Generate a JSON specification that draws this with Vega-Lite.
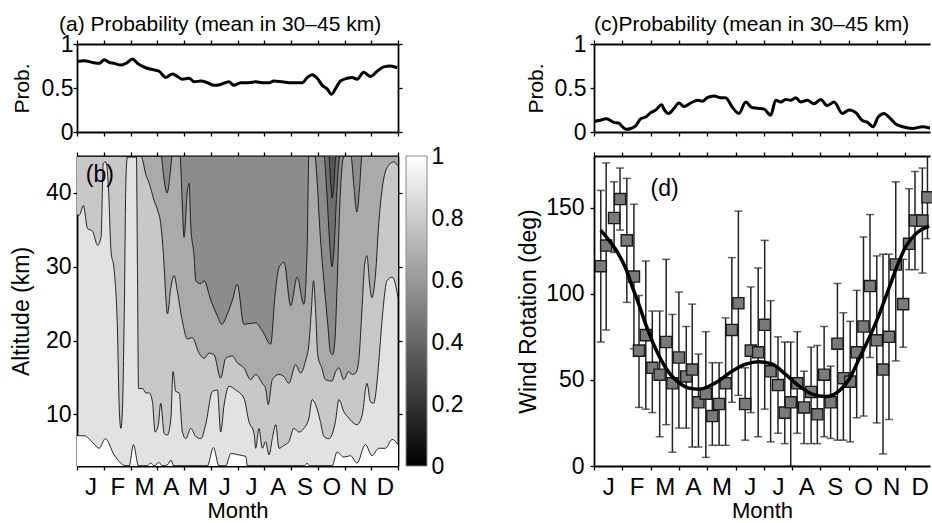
{
  "$schema": "https://vega.github.io/schema/vega-lite/v6.json",
  "background": "white",
  "padding": {"left": 10, "top": 13, "right": 0, "bottom": 0},
  "config": {
    "font": "Liberation Sans",
    "view": {"stroke": null},
    "axis": {"grid": false, "domainColor": "black", "domainWidth": 1.8, "tickColor": "black", "tickWidth": 1.3, "tickSize": 4, "labelColor": "black", "labelFontSize": 23, "labelPadding": 2, "titleColor": "black", "titleFontSize": 22, "titleFontWeight": "normal", "labelFlush": false, "labelOverlap": false},
    "title": {"fontSize": 21, "fontWeight": "normal", "color": "black", "anchor": "start", "frame": "group", "offset": -1.5}
  },
  "datasets": {
    "probA": [
      {"t":0,"p":0.80},{"t":0.27,"p":0.81},{"t":0.58,"p":0.79},{"t":0.83,"p":0.78},{"t":1.02,"p":0.82},{"t":1.21,"p":0.79},{"t":1.39,"p":0.78},{"t":1.64,"p":0.76},{"t":1.83,"p":0.78},{"t":2.08,"p":0.83},{"t":2.26,"p":0.78},{"t":2.57,"p":0.73},{"t":2.82,"p":0.71},{"t":3.07,"p":0.69},{"t":3.32,"p":0.62},{"t":3.57,"p":0.66},{"t":3.76,"p":0.63},{"t":3.94,"p":0.60},{"t":4.19,"p":0.61},{"t":4.38,"p":0.57},{"t":4.63,"p":0.58},{"t":4.88,"p":0.56},{"t":5.12,"p":0.53},{"t":5.37,"p":0.54},{"t":5.68,"p":0.57},{"t":5.87,"p":0.53},{"t":6.12,"p":0.56},{"t":6.43,"p":0.56},{"t":6.68,"p":0.57},{"t":6.93,"p":0.56},{"t":7.18,"p":0.56},{"t":7.36,"p":0.58},{"t":7.67,"p":0.57},{"t":8.05,"p":0.56},{"t":8.42,"p":0.56},{"t":8.61,"p":0.62},{"t":8.79,"p":0.65},{"t":8.98,"p":0.61},{"t":9.17,"p":0.53},{"t":9.35,"p":0.49},{"t":9.51,"p":0.43},{"t":9.66,"p":0.49},{"t":9.85,"p":0.58},{"t":10.10,"p":0.61},{"t":10.29,"p":0.62},{"t":10.47,"p":0.60},{"t":10.72,"p":0.68},{"t":10.97,"p":0.63},{"t":11.22,"p":0.69},{"t":11.47,"p":0.74},{"t":11.72,"p":0.75},{"t":11.97,"p":0.73}
    ],
    "probC": [
      {"t":0,"p":0.12},{"t":0.18,"p":0.13},{"t":0.44,"p":0.15},{"t":0.71,"p":0.11},{"t":0.88,"p":0.10},{"t":1.0,"p":0.06},{"t":1.14,"p":0.03},{"t":1.30,"p":0.04},{"t":1.47,"p":0.07},{"t":1.65,"p":0.15},{"t":1.83,"p":0.17},{"t":2.00,"p":0.22},{"t":2.18,"p":0.25},{"t":2.39,"p":0.31},{"t":2.47,"p":0.26},{"t":2.63,"p":0.21},{"t":2.83,"p":0.27},{"t":3.00,"p":0.33},{"t":3.18,"p":0.29},{"t":3.42,"p":0.33},{"t":3.65,"p":0.36},{"t":3.83,"p":0.35},{"t":4.00,"p":0.39},{"t":4.24,"p":0.41},{"t":4.48,"p":0.39},{"t":4.65,"p":0.39},{"t":4.89,"p":0.28},{"t":5.12,"p":0.21},{"t":5.36,"p":0.34},{"t":5.57,"p":0.28},{"t":5.77,"p":0.27},{"t":6.01,"p":0.26},{"t":6.24,"p":0.19},{"t":6.42,"p":0.36},{"t":6.60,"p":0.34},{"t":6.77,"p":0.37},{"t":6.95,"p":0.36},{"t":7.13,"p":0.39},{"t":7.30,"p":0.34},{"t":7.54,"p":0.36},{"t":7.77,"p":0.32},{"t":8.01,"p":0.37},{"t":8.24,"p":0.30},{"t":8.48,"p":0.34},{"t":8.78,"p":0.21},{"t":9.01,"p":0.25},{"t":9.25,"p":0.22},{"t":9.48,"p":0.13},{"t":9.66,"p":0.11},{"t":9.86,"p":0.06},{"t":10.04,"p":0.17},{"t":10.25,"p":0.21},{"t":10.42,"p":0.17},{"t":10.66,"p":0.09},{"t":10.90,"p":0.06},{"t":11.25,"p":0.04},{"t":11.60,"p":0.06},{"t":11.91,"p":0.04}
    ],
    "c90": [
      {"t":0,"alt":7.1},{"t":0.27,"alt":7.1},{"t":0.58,"alt":6.2},{"t":0.83,"alt":5.4},{"t":1.06,"alt":6.7},{"t":1.39,"alt":4.5},{"t":1.70,"alt":3.2},{"t":1.83,"alt":3.0},{"t":1.95,"alt":3.0},{"t":2.11,"alt":5.9},{"t":2.30,"alt":3.0},{"t":2.6,"alt":3.0},{"t":2.75,"alt":3.4},{"t":2.9,"alt":3.0},{"t":3.05,"alt":3.5},{"t":3.2,"alt":3.0},{"t":3.4,"alt":3.2},{"t":3.51,"alt":3.8},{"t":3.62,"alt":3.0},{"t":4.87,"alt":3.0},{"t":5.10,"alt":5.5},{"t":5.31,"alt":3.0},{"t":5.56,"alt":3.0},{"t":5.75,"alt":4.7},{"t":6.05,"alt":4.5},{"t":6.31,"alt":4.3},{"t":6.37,"alt":3.0},{"t":8.5,"alt":3.0},{"t":8.6,"alt":3.4},{"t":8.7,"alt":3.0},{"t":9.54,"alt":3.0},{"t":9.72,"alt":4.9},{"t":9.97,"alt":4.2},{"t":10.22,"alt":4.4},{"t":10.47,"alt":3.4},{"t":10.78,"alt":5.9},{"t":11.03,"alt":4.4},{"t":11.28,"alt":5.4},{"t":11.53,"alt":5.4},{"t":11.78,"alt":6.6},{"t":12,"alt":5.9}
    ],
    "c80": [
      {"t":0,"alt":37.0},{"t":0.09,"alt":37.0},{"t":0.24,"alt":38.3},{"t":0.39,"alt":35.2},{"t":0.58,"alt":34.8},{"t":0.77,"alt":32.9},{"t":0.9,"alt":34.0},{"t":0.98,"alt":44.0},{"t":1.08,"alt":44.2},{"t":1.18,"alt":40.4},{"t":1.27,"alt":32.2},{"t":1.39,"alt":29.5},{"t":1.51,"alt":21.7},{"t":1.58,"alt":10.8},{"t":1.64,"alt":8.1},{"t":1.70,"alt":10.8},{"t":1.77,"alt":24.6},{"t":1.83,"alt":42},{"t":1.89,"alt":45},{"t":2.22,"alt":45},{"t":2.26,"alt":30},{"t":2.3,"alt":13.5},{"t":2.45,"alt":13.5},{"t":2.57,"alt":12.9},{"t":2.70,"alt":12.9},{"t":2.82,"alt":11.7},{"t":2.92,"alt":7.6},{"t":3.04,"alt":8.6},{"t":3.13,"alt":11.5},{"t":3.26,"alt":7.4},{"t":3.38,"alt":7.2},{"t":3.51,"alt":9.5},{"t":3.59,"alt":15.8},{"t":3.69,"alt":13.1},{"t":3.82,"alt":12.9},{"t":3.94,"alt":7.6},{"t":4.07,"alt":6.7},{"t":4.25,"alt":8.1},{"t":4.44,"alt":7.0},{"t":4.63,"alt":6.7},{"t":4.81,"alt":8.6},{"t":5.06,"alt":13.1},{"t":5.25,"alt":13.3},{"t":5.37,"alt":7.6},{"t":5.50,"alt":11.3},{"t":5.68,"alt":13.8},{"t":5.93,"alt":13.3},{"t":6.24,"alt":12.2},{"t":6.43,"alt":9.0},{"t":6.62,"alt":7.4},{"t":6.68,"alt":5.4},{"t":6.80,"alt":8.1},{"t":6.93,"alt":5.4},{"t":7.05,"alt":6.3},{"t":7.18,"alt":4.5},{"t":7.30,"alt":6.7},{"t":7.43,"alt":8.6},{"t":7.55,"alt":5.4},{"t":7.74,"alt":5.8},{"t":7.92,"alt":6.3},{"t":8.11,"alt":8.1},{"t":8.30,"alt":7.6},{"t":8.48,"alt":8.1},{"t":8.67,"alt":9.5},{"t":8.79,"alt":12.0},{"t":8.92,"alt":11.3},{"t":9.10,"alt":9.0},{"t":9.23,"alt":7.0},{"t":9.41,"alt":6.7},{"t":9.66,"alt":9.0},{"t":9.79,"alt":12.0},{"t":9.97,"alt":10.4},{"t":10.16,"alt":9.5},{"t":10.28,"alt":9.0},{"t":10.47,"alt":8.6},{"t":10.66,"alt":9.9},{"t":10.84,"alt":14.2},{"t":10.97,"alt":11.7},{"t":11.09,"alt":11.5},{"t":11.22,"alt":14.5},{"t":11.28,"alt":17},{"t":11.40,"alt":22.6},{"t":11.59,"alt":28.1},{"t":11.78,"alt":28.6},{"t":11.90,"alt":27.7},{"t":12,"alt":25.8}
    ],
    "c70": [
      {"t":0,"alt":45},{"t":2.40,"alt":45},{"t":2.45,"alt":44.5},{"t":2.57,"alt":42.5},{"t":2.70,"alt":41.3},{"t":2.88,"alt":39},{"t":3.01,"alt":37.7},{"t":3.13,"alt":35.8},{"t":3.26,"alt":29.9},{"t":3.32,"alt":25.8},{"t":3.38,"alt":23.6},{"t":3.51,"alt":27.2},{"t":3.63,"alt":28.8},{"t":3.75,"alt":26.7},{"t":3.94,"alt":22.6},{"t":4.13,"alt":20.2},{"t":4.31,"alt":20.4},{"t":4.56,"alt":18.3},{"t":4.75,"alt":17.6},{"t":4.94,"alt":18.3},{"t":5.12,"alt":18.1},{"t":5.37,"alt":14.9},{"t":5.56,"alt":17.6},{"t":5.81,"alt":17.9},{"t":5.99,"alt":17.0},{"t":6.24,"alt":16.3},{"t":6.49,"alt":14.7},{"t":6.68,"alt":15.4},{"t":6.93,"alt":14.2},{"t":7.05,"alt":13.5},{"t":7.15,"alt":11.3},{"t":7.30,"alt":14.7},{"t":7.55,"alt":15.4},{"t":7.74,"alt":15.1},{"t":7.92,"alt":14.2},{"t":8.17,"alt":16.7},{"t":8.36,"alt":15.6},{"t":8.54,"alt":17.2},{"t":8.67,"alt":19.5},{"t":8.76,"alt":24},{"t":8.84,"alt":28.1},{"t":8.92,"alt":24},{"t":9.0,"alt":18},{"t":9.15,"alt":16.3},{"t":9.29,"alt":14.7},{"t":9.53,"alt":14.5},{"t":9.67,"alt":15.8},{"t":9.79,"alt":16.3},{"t":9.97,"alt":14.7},{"t":10.16,"alt":15.8},{"t":10.28,"alt":15.4},{"t":10.42,"alt":15.6},{"t":10.53,"alt":17.2},{"t":10.65,"alt":24},{"t":10.76,"alt":30.5},{"t":10.84,"alt":31.5},{"t":10.93,"alt":28},{"t":11.02,"alt":25.8},{"t":11.16,"alt":29},{"t":11.28,"alt":35.8},{"t":11.47,"alt":42},{"t":11.66,"alt":43.8},{"t":11.84,"alt":44.2},{"t":12,"alt":43.6}
    ],
    "c60": [
      {"t":0,"alt":45},{"t":3.15,"alt":45},{"t":3.23,"alt":42.5},{"t":3.37,"alt":40},{"t":3.48,"alt":42.5},{"t":3.56,"alt":45},{"t":3.85,"alt":45},{"t":3.94,"alt":38.1},{"t":4.0,"alt":34.0},{"t":4.13,"alt":40.4},{"t":4.19,"alt":41.3},{"t":4.25,"alt":35.8},{"t":4.38,"alt":31.3},{"t":4.44,"alt":28.1},{"t":4.63,"alt":27.7},{"t":4.75,"alt":28.1},{"t":5.0,"alt":25.5},{"t":5.24,"alt":23.4},{"t":5.41,"alt":22.2},{"t":5.61,"alt":23.5},{"t":5.81,"alt":25.5},{"t":5.99,"alt":27.6},{"t":6.24,"alt":22.2},{"t":6.68,"alt":22.4},{"t":6.93,"alt":21.3},{"t":7.24,"alt":19.5},{"t":7.40,"alt":26},{"t":7.55,"alt":29.9},{"t":7.74,"alt":30.6},{"t":7.99,"alt":24.7},{"t":8.23,"alt":28.6},{"t":8.48,"alt":24.9},{"t":8.60,"alt":32},{"t":8.67,"alt":45},{"t":8.89,"alt":45},{"t":8.97,"alt":42},{"t":9.08,"alt":35},{"t":9.23,"alt":28},{"t":9.38,"alt":22},{"t":9.47,"alt":18.5},{"t":9.56,"alt":18.1},{"t":9.64,"alt":20},{"t":9.72,"alt":27},{"t":9.82,"alt":38},{"t":9.94,"alt":44.5},{"t":10.01,"alt":45},{"t":10.24,"alt":45},{"t":10.35,"alt":41},{"t":10.46,"alt":37.4},{"t":10.57,"alt":41},{"t":10.65,"alt":45},{"t":12,"alt":45}
    ],
    "c50": [
      {"t":0,"alt":45},{"t":9.23,"alt":45},{"t":9.34,"alt":40},{"t":9.45,"alt":33},{"t":9.53,"alt":30},{"t":9.60,"alt":32},{"t":9.71,"alt":40},{"t":9.83,"alt":45},{"t":12,"alt":45}
    ],
    "c40": [
      {"t":0,"alt":45},{"t":9.41,"alt":45},{"t":9.49,"alt":41},{"t":9.54,"alt":39.3},{"t":9.60,"alt":41},{"t":9.68,"alt":45},{"t":12,"alt":45}
    ],
    "wind": [
      {"t":0.24,"v":116,"lo":72,"hi":160},{"t":0.43,"v":128,"lo":79,"hi":176},{"t":0.71,"v":144,"lo":124,"hi":165},{"t":0.92,"v":155,"lo":137,"hi":173},{"t":1.16,"v":131,"lo":95,"hi":167},{"t":1.41,"v":110,"lo":68,"hi":152},{"t":1.59,"v":67,"lo":34,"hi":99},{"t":1.83,"v":76,"lo":33,"hi":119},{"t":2.06,"v":57,"lo":31,"hi":90},{"t":2.32,"v":53,"lo":17,"hi":90},{"t":2.55,"v":72,"lo":24,"hi":120},{"t":2.77,"v":48,"lo":8,"hi":88},{"t":3.00,"v":63,"lo":22,"hi":101},{"t":3.26,"v":52,"lo":22,"hi":81},{"t":3.47,"v":56,"lo":11,"hi":94},{"t":3.69,"v":37,"lo":11,"hi":65},{"t":3.95,"v":42,"lo":5,"hi":78},{"t":4.18,"v":29,"lo":12,"hi":60},{"t":4.42,"v":36,"lo":12,"hi":60},{"t":4.65,"v":48,"lo":12,"hi":86},{"t":4.87,"v":79,"lo":37,"hi":121},{"t":5.10,"v":94.5,"lo":41,"hi":148},{"t":5.34,"v":36,"lo":15,"hi":57},{"t":5.54,"v":67,"lo":31,"hi":104},{"t":5.80,"v":66,"lo":17,"hi":115},{"t":6.03,"v":82,"lo":33,"hi":131},{"t":6.24,"v":55,"lo":14,"hi":96},{"t":6.50,"v":47,"lo":19,"hi":75},{"t":6.74,"v":31,"lo":13,"hi":72},{"t":6.95,"v":37,"lo":0,"hi":72},{"t":7.18,"v":48,"lo":19,"hi":78},{"t":7.42,"v":34,"lo":13,"hi":55},{"t":7.67,"v":43,"lo":13,"hi":69},{"t":7.89,"v":30,"lo":13,"hi":70},{"t":8.13,"v":53,"lo":17,"hi":81},{"t":8.36,"v":37,"lo":16,"hi":58},{"t":8.60,"v":71,"lo":15,"hi":106},{"t":8.81,"v":51,"lo":15,"hi":89},{"t":9.05,"v":49,"lo":14,"hi":84},{"t":9.28,"v":66,"lo":28,"hi":102},{"t":9.52,"v":81,"lo":29,"hi":133},{"t":9.75,"v":104.5,"lo":63,"hi":146},{"t":9.99,"v":73,"lo":25,"hi":122},{"t":10.21,"v":56,"lo":7,"hi":123},{"t":10.42,"v":75,"lo":27,"hi":123},{"t":10.66,"v":117,"lo":61,"hi":165},{"t":10.92,"v":94,"lo":69,"hi":120},{"t":11.13,"v":129,"lo":114,"hi":161},{"t":11.34,"v":142.5,"lo":114,"hi":171},{"t":11.60,"v":142.5,"lo":112,"hi":173},{"t":11.78,"v":156,"lo":132,"hi":180}
    ],
    "fit": [
      {"t":0.24,"v":136.8},{"t":0.53,"v":131.1},{"t":0.82,"v":124.3},{"t":1.12,"v":114.8},{"t":1.35,"v":104.2},{"t":1.59,"v":93.6},{"t":1.83,"v":82.1},{"t":2.06,"v":72.5},{"t":2.36,"v":61.9},{"t":2.65,"v":54.2},{"t":3.00,"v":48.4},{"t":3.36,"v":45.2},{"t":3.71,"v":44.6},{"t":4.30,"v":48.4},{"t":4.89,"v":55.2},{"t":5.36,"v":59.1},{"t":5.83,"v":60.5},{"t":6.30,"v":59.1},{"t":6.77,"v":53.2},{"t":7.24,"v":46.5},{"t":7.71,"v":41.7},{"t":8.19,"v":40.3},{"t":8.66,"v":43.6},{"t":9.01,"v":50.2},{"t":9.36,"v":62},{"t":9.72,"v":74.4},{"t":10.07,"v":87.8},{"t":10.42,"v":103.2},{"t":10.72,"v":116.6},{"t":11.01,"v":127.2},{"t":11.37,"v":134.8},{"t":11.84,"v":139.3}
    ],
    "cbar": [{"lo":0,"hi":1}]
  },
  "columns": 3,
  "bounds": "flush",
  "align": "each",
  "spacing": {"row": 24, "column": 8},
  "concat": [
    {
      "width": 321, "height": 88,
      "title": {"text": "(a) Probability (mean in 30–45 km)", "dx": -18},
      "layer": [
        {"data": {"name": "probA"}, "mark": {"type": "line", "color": "black", "strokeWidth": 3, "interpolate": "monotone", "clip": true},
         "encoding": {
           "x": {"field": "t", "type": "quantitative", "scale": {"domain": [0, 12], "nice": false, "zero": false}, "axis": {"values": [0,1,2,3,4,5,6,7,8,9,10,11,12], "labels": false, "title": null}},
           "y": {"field": "p", "type": "quantitative", "scale": {"domain": [0, 1], "nice": false}, "axis": {"values": [0, 0.5, 1], "labelExpr": "'' + datum.value", "labelPadding": 0, "title": "Prob.", "titleFontSize": 21, "titlePadding": 9}}
         }},
        {"data": {"name": "probA"}, "mark": {"type": "point", "opacity": 0},
         "encoding": {
           "x": {"field": "t", "type": "quantitative", "axis": {"orient": "top", "values": [0,1,2,3,4,5,6,7,8,9,10,11,12], "labels": false, "title": null}},
           "y": {"field": "p", "type": "quantitative", "axis": {"orient": "right", "values": [0, 0.5, 1], "labels": false, "title": null}}
         }}
      ],
      "resolve": {"axis": {"x": "independent", "y": "independent"}}
    },
    {
      "width": 180, "height": 88,
      "data": {"values": [{"k": 0}]},
      "mark": {"type": "point", "opacity": 0},
      "encoding": {}
    },
    {
      "width": 336, "height": 88,
      "title": {"text": "(c)Probability (mean in 30–45 km)", "dx": 0},
      "layer": [
        {"data": {"name": "probC"}, "mark": {"type": "line", "color": "black", "strokeWidth": 3, "interpolate": "monotone", "clip": true},
         "encoding": {
           "x": {"field": "t", "type": "quantitative", "scale": {"domain": [0, 11.87], "nice": false, "zero": false}, "axis": {"values": [0,1,2,3,4,5,6,7,8,9,10,11], "labels": false, "title": null}},
           "y": {"field": "p", "type": "quantitative", "scale": {"domain": [0, 1], "nice": false}, "axis": {"values": [0, 0.5, 1], "labelExpr": "'' + datum.value", "labelPadding": 4, "title": "Prob.", "titleFontSize": 21, "titlePadding": 8}}
         }},
        {"data": {"name": "probC"}, "mark": {"type": "point", "opacity": 0},
         "encoding": {
           "x": {"field": "t", "type": "quantitative", "axis": {"orient": "top", "values": [0,1,2,3,4,5,6,7,8,9,10,11], "labels": false, "title": null}},
           "y": {"field": "p", "type": "quantitative", "axis": null}
         }}
      ],
      "resolve": {"axis": {"x": "independent", "y": "independent"}}
    },
    {
      "width": 321, "height": 310,
      "view": {"fill": "#e2e2e2", "stroke": null},
      "layer": [
        {"data": {"name": "c90"}, "mark": {"type": "area", "color": "white", "interpolate": "monotone", "clip": true},
         "encoding": {
           "x": {"field": "t", "type": "quantitative", "scale": {"domain": [0, 12], "nice": false, "zero": false}, "axis": {"values": [0,1,2,3,4,5,6,7,8,9,10,11,12], "labelExpr": "['J','F','M','A','M','J','J','A','S','O','N','D',''][datum.value]", "labelOffset": 13.6, "labelPadding": 5, "labelFontSize": 24, "title": "Month", "titlePadding": 1}},
           "y": {"field": "alt", "type": "quantitative", "scale": {"domain": [3, 45], "nice": false, "zero": false}, "axis": {"values": [10, 20, 30, 40], "labelPadding": 2, "title": "Altitude (km)", "titleFontSize": 23, "titlePadding": 12}},
           "y2": {"datum": 3}
         }},
        {"data": {"name": "c90"}, "mark": {"type": "line", "color": "#111", "strokeWidth": 0.9, "interpolate": "monotone", "clip": true},
         "encoding": {"x": {"field": "t", "type": "quantitative", "axis": null}, "y": {"field": "alt", "type": "quantitative", "axis": null}}},
        {"data": {"name": "c80"}, "mark": {"type": "area", "color": "#c8c8c8", "interpolate": "monotone", "clip": true},
         "encoding": {"x": {"field": "t", "type": "quantitative", "axis": null}, "y": {"field": "alt", "type": "quantitative", "axis": null}, "y2": {"datum": 45}}},
        {"data": {"name": "c80"}, "mark": {"type": "line", "color": "#111", "strokeWidth": 0.9, "interpolate": "monotone", "clip": true},
         "encoding": {"x": {"field": "t", "type": "quantitative", "axis": null}, "y": {"field": "alt", "type": "quantitative", "axis": null}}},
        {"data": {"name": "c70"}, "mark": {"type": "area", "color": "#aaaaaa", "interpolate": "monotone", "clip": true},
         "encoding": {"x": {"field": "t", "type": "quantitative", "axis": null}, "y": {"field": "alt", "type": "quantitative", "axis": null}, "y2": {"datum": 45}}},
        {"data": {"name": "c70"}, "mark": {"type": "line", "color": "#111", "strokeWidth": 0.9, "interpolate": "monotone", "clip": true},
         "encoding": {"x": {"field": "t", "type": "quantitative", "axis": null}, "y": {"field": "alt", "type": "quantitative", "axis": null}}},
        {"data": {"name": "c60"}, "mark": {"type": "area", "color": "#8c8c8c", "interpolate": "monotone", "clip": true},
         "encoding": {"x": {"field": "t", "type": "quantitative", "axis": null}, "y": {"field": "alt", "type": "quantitative", "axis": null}, "y2": {"datum": 45}}},
        {"data": {"name": "c60"}, "mark": {"type": "line", "color": "#111", "strokeWidth": 0.9, "interpolate": "monotone", "clip": true},
         "encoding": {"x": {"field": "t", "type": "quantitative", "axis": null}, "y": {"field": "alt", "type": "quantitative", "axis": null}}},
        {"data": {"name": "c50"}, "mark": {"type": "area", "color": "#6e6e6e", "interpolate": "monotone", "clip": true},
         "encoding": {"x": {"field": "t", "type": "quantitative", "axis": null}, "y": {"field": "alt", "type": "quantitative", "axis": null}, "y2": {"datum": 45}}},
        {"data": {"name": "c50"}, "mark": {"type": "line", "color": "#111", "strokeWidth": 0.9, "interpolate": "monotone", "clip": true},
         "encoding": {"x": {"field": "t", "type": "quantitative", "axis": null}, "y": {"field": "alt", "type": "quantitative", "axis": null}}},
        {"data": {"name": "c40"}, "mark": {"type": "area", "color": "#555555", "interpolate": "monotone", "clip": true},
         "encoding": {"x": {"field": "t", "type": "quantitative", "axis": null}, "y": {"field": "alt", "type": "quantitative", "axis": null}, "y2": {"datum": 45}}},
        {"data": {"name": "c40"}, "mark": {"type": "line", "color": "#111", "strokeWidth": 0.9, "interpolate": "monotone", "clip": true},
         "encoding": {"x": {"field": "t", "type": "quantitative", "axis": null}, "y": {"field": "alt", "type": "quantitative", "axis": null}}},
        {"data": {"values": [{"lab": "(b)"}]}, "mark": {"type": "text", "fontSize": 23, "align": "left", "baseline": "middle", "color": "black"},
         "encoding": {"x": {"datum": 0.33, "axis": null}, "y": {"datum": 42.4, "axis": null}, "text": {"field": "lab"}}},
        {"data": {"name": "c80"}, "mark": {"type": "point", "opacity": 0},
         "encoding": {
           "x": {"field": "t", "type": "quantitative", "axis": {"orient": "top", "values": [0,1,2,3,4,5,6,7,8,9,10,11,12], "labels": false, "title": null}},
           "y": {"field": "alt", "type": "quantitative", "axis": {"orient": "right", "values": [10, 20, 30, 40], "labels": false, "title": null}}
         }}
      ],
      "resolve": {"axis": {"x": "independent", "y": "independent"}}
    },
    {
      "width": 21, "height": 310,
      "data": {"name": "cbar"},
      "mark": {"type": "rect", "stroke": "#888888", "strokeWidth": 1, "fill": {"gradient": "linear", "x1": 0, "y1": 1, "x2": 0, "y2": 0, "stops": [{"offset": 0, "color": "black"}, {"offset": 1, "color": "white"}]}},
      "encoding": {
        "x": {"datum": 0, "type": "quantitative", "scale": {"domain": [0, 1], "nice": false}, "axis": null},
        "x2": {"datum": 1},
        "y": {"field": "lo", "type": "quantitative", "scale": {"domain": [0, 1], "nice": false}, "axis": {"orient": "right", "values": [0, 0.2, 0.4, 0.6, 0.8, 1], "labelExpr": "'' + datum.value", "domain": false, "ticks": false, "labelPadding": 4, "title": null}},
        "y2": {"field": "hi"}
      }
    },
    {
      "width": 336, "height": 310,
      "layer": [
        {"data": {"name": "wind"}, "mark": {"type": "errorbar", "ticks": {"size": 8, "thickness": 1.5, "color": "#222222"}, "rule": {"strokeWidth": 1.5, "color": "#222222"}, "clip": true},
         "encoding": {
           "x": {"field": "t", "type": "quantitative", "scale": {"domain": [0, 11.87], "nice": false, "zero": false}, "axis": null},
           "y": {"field": "lo", "type": "quantitative", "scale": {"domain": [0, 180], "nice": false}, "axis": null},
           "y2": {"field": "hi"}
         }},
        {"data": {"name": "wind"}, "mark": {"type": "point", "shape": "square", "filled": true, "fill": "#7a7a7a", "stroke": "#1a1a1a", "strokeWidth": 1.4, "size": 125, "opacity": 1},
         "encoding": {
           "x": {"field": "t", "type": "quantitative", "scale": {"domain": [0, 11.87], "nice": false, "zero": false}, "axis": {"values": [0,1,2,3,4,5,6,7,8,9,10,11], "labelExpr": "['J','F','M','A','M','J','J','A','S','O','N','D',''][datum.value]", "labelOffset": 14.2, "labelPadding": 5, "labelFontSize": 24, "title": "Month", "titlePadding": 1}},
           "y": {"field": "v", "type": "quantitative", "scale": {"domain": [0, 180], "nice": false}, "axis": {"values": [0, 50, 100, 150], "labelPadding": 6, "title": "Wind Rotation (deg)", "titleFontSize": 23, "titlePadding": 5}}
         }},
        {"data": {"name": "fit"}, "mark": {"type": "line", "color": "black", "strokeWidth": 3.5, "interpolate": "monotone", "clip": true},
         "encoding": {"x": {"field": "t", "type": "quantitative", "axis": null}, "y": {"field": "v", "type": "quantitative", "axis": null}}},
        {"data": {"values": [{"lab": "(d)"}]}, "mark": {"type": "text", "fontSize": 23, "align": "left", "baseline": "middle", "color": "black"},
         "encoding": {"x": {"datum": 2.0, "axis": null}, "y": {"datum": 161, "axis": null}, "text": {"field": "lab"}}},
        {"data": {"name": "fit"}, "mark": {"type": "point", "opacity": 0},
         "encoding": {
           "x": {"field": "t", "type": "quantitative", "axis": {"orient": "top", "values": [0,1,2,3,4,5,6,7,8,9,10,11], "labels": false, "title": null}},
           "y": {"field": "v", "type": "quantitative", "axis": null}
         }}
      ],
      "resolve": {"axis": {"x": "independent", "y": "independent"}}
    }
  ]
}
